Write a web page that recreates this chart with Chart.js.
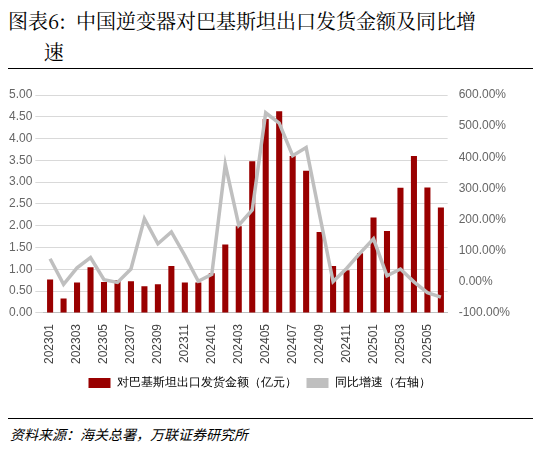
<!DOCTYPE html>
<html><head><meta charset="utf-8">
<script src="https://cdn.jsdelivr.net/npm/chart.js@4"></script>
<style>
body{margin:0;background:#fff;font-family:"Noto Sans CJK SC",sans-serif;}
#title{position:absolute;left:8px;top:5px;width:520px;font-size:20px;line-height:31px;color:#000;font-family:"Noto Serif CJK SC","Noto Sans CJK SC",serif;}
#l1{position:absolute;left:8px;top:68px;width:525px;border-top:1px solid #000;}
#l2{position:absolute;left:8px;top:418px;width:525px;border-top:1px solid #000;}
#src{position:absolute;left:10px;top:424px;font-size:14px;font-style:italic;color:#000;}
#wrap{position:absolute;left:0;top:78px;width:539px;height:321px;}
</style></head><body>
<div id="title">图表6:&nbsp; 中国逆变器对巴基斯坦出口发货金额及同比增<br>&nbsp;&nbsp;&nbsp;&nbsp;&nbsp;&nbsp;&nbsp;速</div>
<div id="l1"></div><div id="l2"></div>
<div id="src">资料来源：海关总署，万联证券研究所</div>
<div id="wrap"><canvas id="c"></canvas></div>
<script>
const categories=["202301","202302","202303","202304","202305","202306","202307","202308","202309","202310","202311","202312","202401","202402","202403","202404","202405","202406","202407","202408","202409","202410","202411","202412","202501","202502","202503","202504","202505","202506"];
const exportValue=[0.77,0.33,0.70,1.05,0.71,0.75,0.73,0.61,0.66,1.08,0.70,0.70,0.91,1.57,1.99,3.48,4.45,4.63,3.60,3.26,1.86,1.08,0.98,1.37,2.19,1.88,2.87,3.60,2.88,2.42];
const yoy=[74,-8,45,78,7,-2,41,203,122,160,84,2,24,377,182,231,543,510,405,431,215,1,43,92,138,19,41,0,-35,-49];
new Chart(document.getElementById('c'),{
 data:{labels:categories,datasets:[
  {type:'line',label:'同比增速（右轴）',data:yoy,yAxisID:'y1',borderColor:'#bfbfbf',backgroundColor:'#bfbfbf',borderWidth:3.5,pointRadius:0,tension:0,order:0},
  {type:'bar',label:'对巴基斯坦出口发货金额（亿元）',data:exportValue,yAxisID:'y',backgroundColor:'#990000',barPercentage:0.45,categoryPercentage:1,order:1}
 ]},
 options:{responsive:true,maintainAspectRatio:false,animation:false,
  layout:{padding:{left:6,right:26,top:17}},
  plugins:{legend:{position:'bottom',labels:{boxWidth:22,boxHeight:10,font:{size:12},color:'#000',
     generateLabels:(ch)=>ch.data.datasets.slice().reverse().map((d)=>({text:d.label,fillStyle:d.type==='bar'?'#990000':'#bfbfbf',strokeStyle:'rgba(0,0,0,0)',lineWidth:0,datasetIndex:ch.data.datasets.indexOf(d)}))}},tooltip:{enabled:false}},
  scales:{
   x:{grid:{display:false},border:{color:'#bfbfbf'},ticks:{autoSkip:false,maxRotation:90,minRotation:90,color:'#444',font:{size:12},callback:(v,i)=>i%2===0?categories[i]:''}},
   y:{min:0,max:5,ticks:{stepSize:0.5,color:'#666',font:{size:12},callback:v=>v.toFixed(2)},grid:{color:'#d9d9d9'},border:{display:false}},
   y1:{position:'right',min:-100,max:600,ticks:{stepSize:100,color:'#666',font:{size:12},callback:v=>v.toFixed(2)+'%'},grid:{display:false},border:{display:false}}
  }}
});
</script></body></html>
